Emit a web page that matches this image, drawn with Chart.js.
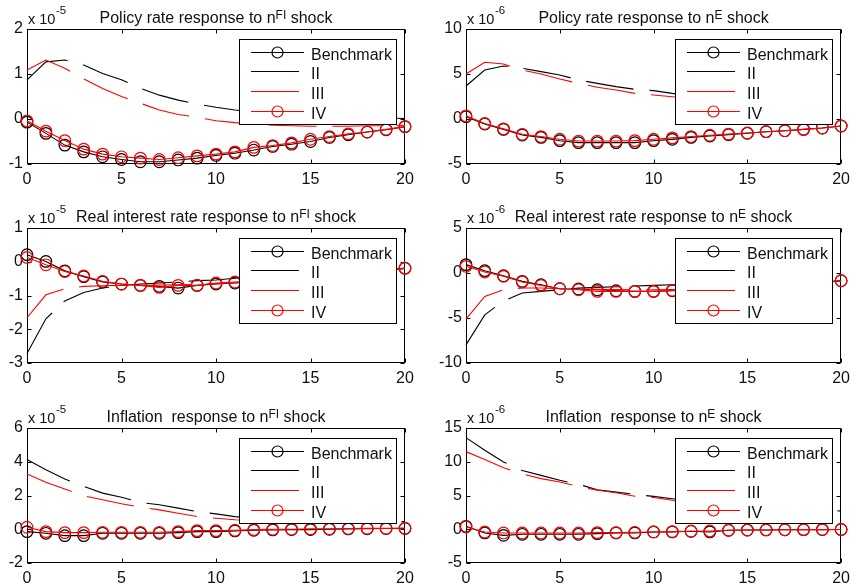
<!DOCTYPE html>
<html><head><meta charset="utf-8">
<script src="https://cdn.jsdelivr.net/npm/chart.js@4.4.1/dist/chart.umd.min.js"></script>
<style>
html,body{margin:0;padding:0;background:#fff;}
body{width:856px;height:587px;position:relative;overflow:hidden;}
canvas{position:absolute;display:block;}
</style></head><body>
<canvas id="c1" width="428" height="199" style="left:0;top:0"></canvas>
<canvas id="c2" width="428" height="199" style="left:428px;top:0"></canvas>
<canvas id="c3" width="428" height="199" style="left:0;top:199px"></canvas>
<canvas id="c4" width="428" height="199" style="left:428px;top:199px"></canvas>
<canvas id="c5" width="428" height="189" style="left:0;top:398px"></canvas>
<canvas id="c6" width="428" height="189" style="left:428px;top:398px"></canvas>
<script>
// ---------- data ----------
const periods = [0,1,2,3,4,5,6,7,8,9,10,11,12,13,14,15,16,17,18,19,20];
const xTicks = [0,5,10,15,20];
const seriesNames = ['Benchmark','II','III','IV'];

// Policy rate response to n^FI shock (x 10^-5)
const policyFI_bench = [-0.07,-0.32,-0.58,-0.73,-0.84,-0.90,-0.95,-0.95,-0.91,-0.87,-0.81,-0.76,-0.69,-0.61,-0.56,-0.50,-0.41,-0.35,-0.29,-0.24,-0.17];
const policyFI_II    = [0.87,1.27,1.31,1.20,1.01,0.87,0.68,0.53,0.42,0.33,0.26,0.20,0.16,0.13,0.10,0.08,0.06,0.04,0.03,0.02,0.01];
const policyFI_III   = [1.09,1.31,1.13,0.89,0.68,0.50,0.35,0.20,0.10,0.04,-0.04,-0.08,-0.11,-0.14,-0.15,-0.16,-0.16,-0.16,-0.15,-0.15,-0.14];
const policyFI_IV    = [-0.04,-0.27,-0.48,-0.67,-0.78,-0.84,-0.87,-0.90,-0.86,-0.82,-0.78,-0.73,-0.63,-0.59,-0.53,-0.45,-0.39,-0.33,-0.29,-0.23,-0.17];
const policyFI_yTicks = [-1,0,1,2];

// Policy rate response to n^E shock (x 10^-6)
const policyE_bench = [0.26,-0.56,-1.15,-1.78,-2.04,-2.41,-2.63,-2.63,-2.63,-2.63,-2.41,-2.26,-2.04,-1.89,-1.74,-1.59,-1.41,-1.30,-1.15,-1.00,-0.78];
const policyE_II    = [3.67,5.44,5.89,5.63,5.26,4.89,4.33,3.96,3.60,3.30,3.15,2.85,2.60,2.40,2.20,2.00,1.85,1.70,1.55,1.45,1.35];
const policyE_III   = [5.00,6.30,6.11,5.44,5.00,4.44,3.96,3.52,3.22,2.85,2.67,2.48,2.30,2.15,2.00,1.85,1.70,1.60,1.50,1.40,1.30];
const policyE_IV    = [0.35,-0.50,-1.10,-1.70,-1.95,-2.25,-2.45,-2.45,-2.45,-2.40,-2.25,-2.10,-1.95,-1.80,-1.68,-1.55,-1.41,-1.30,-1.15,-1.00,-0.78];
const policyE_yTicks = [-5,0,5,10];

// Real interest rate response to n^FI shock (x 10^-5)
const realFI_bench = [0.21,0.01,-0.27,-0.44,-0.60,-0.66,-0.70,-0.73,-0.78,-0.70,-0.66,-0.63,-0.60,-0.56,-0.52,-0.47,-0.42,-0.37,-0.32,-0.27,-0.19];
const realFI_II    = [-2.72,-1.69,-1.16,-0.91,-0.78,-0.70,-0.66,-0.63,-0.60,-0.56,-0.54,-0.49,-0.45,-0.42,-0.38,-0.35,-0.32,-0.29,-0.26,-0.23,-0.20];
const realFI_III   = [-1.66,-0.98,-0.80,-0.73,-0.71,-0.70,-0.70,-0.69,-0.68,-0.67,-0.65,-0.62,-0.57,-0.53,-0.49,-0.44,-0.40,-0.35,-0.30,-0.25,-0.20];
const realFI_IV    = [0.13,-0.09,-0.29,-0.42,-0.58,-0.66,-0.70,-0.76,-0.70,-0.70,-0.63,-0.60,-0.57,-0.53,-0.49,-0.45,-0.40,-0.35,-0.30,-0.25,-0.19];
const realFI_yTicks = [-3,-2,-1,0,1];

// Real interest rate response to n^E shock (x 10^-6)
const realE_bench = [0.93,0.26,-0.30,-0.93,-1.30,-1.75,-1.78,-1.86,-1.97,-2.04,-2.04,-1.97,-1.90,-1.80,-1.70,-1.60,-1.50,-1.35,-1.20,-1.05,-0.86];
const realE_II    = [-7.99,-4.65,-3.10,-2.23,-2.04,-1.86,-1.67,-1.60,-1.52,-1.45,-1.38,-1.30,-1.25,-1.20,-1.15,-1.10,-1.05,-1.00,-0.96,-0.93,-0.90];
const realE_III   = [-5.13,-2.60,-1.86,-1.67,-1.67,-1.75,-1.78,-1.82,-1.85,-1.86,-1.86,-1.84,-1.78,-1.70,-1.60,-1.50,-1.40,-1.28,-1.15,-1.02,-0.90];
const realE_IV    = [0.74,0.11,-0.37,-1.00,-1.38,-1.75,-1.86,-2.04,-2.04,-2.04,-2.04,-1.93,-1.88,-1.80,-1.70,-1.60,-1.50,-1.35,-1.20,-1.05,-0.86];
const realE_yTicks = [-10,-5,0,5];

// Inflation response to n^FI shock (x 10^-5)
const inflFI_bench = [-0.14,-0.24,-0.38,-0.38,-0.24,-0.24,-0.24,-0.24,-0.20,-0.14,-0.14,-0.10,-0.06,-0.04,-0.02,-0.02,0.00,0.02,0.03,0.04,0.05];
const inflFI_II    = [4.13,3.53,2.98,2.54,2.14,1.90,1.59,1.45,1.25,1.05,0.91,0.75,0.66,0.60,0.55,0.52,0.50,0.48,0.47,0.46,0.45];
const inflFI_III   = [3.27,2.78,2.38,1.98,1.75,1.51,1.31,1.15,0.95,0.75,0.65,0.56,0.51,0.48,0.47,0.46,0.46,0.45,0.45,0.45,0.45];
const inflFI_IV    = [0.12,-0.14,-0.20,-0.20,-0.18,-0.18,-0.18,-0.18,-0.14,-0.08,-0.08,-0.06,-0.02,0.00,0.00,0.02,0.03,0.04,0.05,0.05,0.06];
const inflFI_yTicks = [-2,0,2,4,6];

// Inflation response to n^E shock (x 10^-6)
const inflE_bench = [0.43,-0.55,-0.90,-0.75,-0.75,-0.75,-0.75,-0.65,-0.55,-0.55,-0.40,-0.40,-0.30,-0.40,-0.15,-0.12,-0.10,-0.08,-0.06,-0.05,-0.04];
const inflE_II    = [13.57,11.70,9.96,8.70,7.98,7.25,6.65,5.86,5.50,5.17,4.87,4.53,4.25,4.00,3.75,3.55,3.35,3.15,3.00,2.85,2.70];
const inflE_III   = [11.50,10.35,9.10,8.20,7.50,7.00,6.36,5.77,5.40,4.90,4.70,4.30,4.05,3.80,3.60,3.40,3.20,3.05,2.90,2.75,2.60];
const inflE_IV    = [0.33,-0.40,-0.55,-0.55,-0.55,-0.55,-0.55,-0.50,-0.50,-0.45,-0.40,-0.35,-0.30,-0.25,-0.15,-0.12,-0.10,-0.08,-0.06,-0.05,-0.04];
const inflE_yTicks = [-5,0,5,10,15];

// ---------- styling ----------
const FONT = "'Liberation Sans', Arial, Helvetica, sans-serif";
const TXT = '#111111';
const BLACK = '#000000';
const RED = '#ff0000';
const DASH = [48,16];

const decor = {
  id: 'decor',
  beforeDatasetsDraw(chart) {
    const ctx = chart.ctx, a = chart.chartArea, xs = chart.scales.x, ys = chart.scales.y;
    ctx.save();
    ctx.strokeStyle = BLACK; ctx.lineWidth = 1;
    const l = Math.round(a.left)+0.5, r = Math.round(a.right)-0.5, t = Math.round(a.top)+0.5, b = Math.round(a.bottom)-0.5;
    ctx.strokeRect(l, t, r-l, b-t);
    const TL = 4;
    ctx.beginPath();
    xs.ticks.forEach(tk => {
      const px = Math.round(xs.getPixelForValue(tk.value))+0.5;
      ctx.moveTo(px, b); ctx.lineTo(px, b-TL);
      ctx.moveTo(px, t); ctx.lineTo(px, t+TL);
    });
    ys.ticks.forEach(tk => {
      const py = Math.round(ys.getPixelForValue(tk.value))+0.5;
      ctx.moveTo(l, py); ctx.lineTo(l+TL, py);
      ctx.moveTo(r, py); ctx.lineTo(r-TL, py);
    });
    ctx.stroke();
    ctx.restore();
  },
  afterDatasetsDraw(chart, args, o) {
    const ctx = chart.ctx, a = chart.chartArea;
    ctx.save();
    const lw = 158, lh = 86;
    const lx = Math.round(a.right) - 8 - lw, ly = Math.round(a.top) + 10;
    ctx.fillStyle = '#fff';
    ctx.fillRect(lx, ly, lw, lh);
    ctx.strokeStyle = BLACK; ctx.lineWidth = 1;
    ctx.strokeRect(lx+0.5, ly+0.5, lw-1, lh-1);
    const ds = chart.data.datasets;
    ds.forEach((d, i) => {
      const y = Math.round(ly + 12.7 + i*19.6) + 0.5;
      ctx.strokeStyle = d.borderColor; ctx.lineWidth = 1.1;
      ctx.setLineDash(d.borderDash || []);
      ctx.beginPath(); ctx.moveTo(lx+12, y); ctx.lineTo(lx+65, y); ctx.stroke();
      ctx.setLineDash([]);
      if (d.pointRadius > 0) {
        ctx.lineWidth = 1.2;
        ctx.beginPath(); ctx.arc(lx+38.5, y, 5.5, 0, Math.PI*2); ctx.stroke();
      }
      ctx.fillStyle = TXT;
      ctx.font = '16px ' + FONT;
      ctx.textBaseline = 'middle'; ctx.textAlign = 'left';
      ctx.fillText(d.label, lx+72, y+3.5);
    });
    ctx.restore();
  },
  afterDraw(chart, args, o) {
    const ctx = chart.ctx, a = chart.chartArea;
    ctx.save();
    ctx.fillStyle = TXT;
    ctx.textBaseline = 'alphabetic'; ctx.textAlign = 'left';
    // title with superscript
    const mainF = '16px ' + FONT, supF = '12px ' + FONT;
    ctx.font = mainF; const w1 = ctx.measureText(o.title[0]).width, w3 = ctx.measureText(o.title[2]).width;
    ctx.font = supF; const w2 = ctx.measureText(o.title[1]).width;
    const cx = (a.left + a.right)/2;
    let x = cx - (w1+w2+w3)/2;
    const by = a.top - 6;
    ctx.font = mainF; ctx.fillText(o.title[0], x, by); x += w1;
    ctx.font = supF; ctx.fillText(o.title[1], x, by - 4); x += w2;
    ctx.font = mainF; ctx.fillText(o.title[2], x, by);
    // exponent label
    ctx.font = '14.5px ' + FONT;
    const base = 'x 10';
    ctx.fillText(base, a.left + 1, a.top - 5);
    const bw = ctx.measureText(base).width;
    ctx.font = '11.5px ' + FONT;
    ctx.fillText(o.exp, a.left + 1 + bw + 0.5, a.top - 15.5);
    ctx.restore();
  }
};

function pts(ys) { return periods.map((p, i) => ({x: p, y: ys[i]})); }

function makePanel(id, g, s) {
  const circle = (c) => ({pointRadius:5.8, pointHoverRadius:5.8, pointBorderColor:c, pointBackgroundColor:'rgba(0,0,0,0)', pointBorderWidth:1.2});
  const none = {pointRadius:0, pointHoverRadius:0};
  new Chart(document.getElementById(id), {
    type: 'line',
    data: { datasets: [
      Object.assign({label: seriesNames[0], data: pts(s.bench), borderColor: BLACK, borderWidth: 1.1, clip: false, order: 3}, circle(BLACK)),
      Object.assign({label: seriesNames[1], data: pts(s.II), borderColor: BLACK, borderWidth: 1.1, borderDash: DASH, clip: false, order: 2}, none),
      Object.assign({label: seriesNames[2], data: pts(s.III), borderColor: RED, borderWidth: 1.1, borderDash: DASH, clip: false, order: 1}, none),
      Object.assign({label: seriesNames[3], data: pts(s.IV), borderColor: RED, borderWidth: 1.1, clip: false, order: 0}, circle(RED))
    ]},
    options: {
      responsive: false, animation: false, devicePixelRatio: 1, events: [],
      layout: { padding: { top: g.T - g.cy, right: g.cx + g.cw - g.R, left: 0, bottom: 0 } },
      elements: { line: { tension: 0 } },
      plugins: { legend: {display: false}, tooltip: {enabled: false}, title: {display: false},
                 decor: { title: s.title, exp: s.exp } },
      scales: {
        x: { type: 'linear', min: 0, max: 20,
             afterBuildTicks: sc => { sc.ticks = xTicks.map(v => ({value: v})); },
             afterFit: sc => { sc.height = g.cy + g.ch - g.B; },
             grid: { display: false, drawTicks: false }, border: { display: false },
             ticks: { font: { family: FONT, size: 16 }, color: TXT, padding: 6, maxRotation: 0, autoSkip: false } },
        y: { type: 'linear', min: s.yTicks[0], max: s.yTicks[s.yTicks.length-1],
             afterBuildTicks: sc => { sc.ticks = s.yTicks.map(v => ({value: v})); },
             afterFit: sc => { sc.width = g.L - g.cx; },
             grid: { display: false, drawTicks: false }, border: { display: false },
             ticks: { font: { family: FONT, size: 16 }, color: TXT, padding: 4, autoSkip: false } }
      }
    },
    plugins: [decor]
  });
}

const colL = {cx: 0, cw: 428, L: 27, R: 405};
const colR = {cx: 428, cw: 428, L: 466, R: 844};
const row1 = {cy: 0, ch: 199, T: 29, B: 164};
const row2 = {cy: 199, ch: 199, T: 228, B: 363};
const row3 = {cy: 398, ch: 189, T: 428, B: 563};

makePanel('c1', Object.assign({}, colL, row1), {bench: policyFI_bench, II: policyFI_II, III: policyFI_III, IV: policyFI_IV, yTicks: policyFI_yTicks, title: ['Policy rate response to n','FI',' shock'], exp: '-5'});
makePanel('c2', Object.assign({}, colR, row1), {bench: policyE_bench, II: policyE_II, III: policyE_III, IV: policyE_IV, yTicks: policyE_yTicks, title: ['Policy rate response to n','E',' shock'], exp: '-6'});
makePanel('c3', Object.assign({}, colL, row2), {bench: realFI_bench, II: realFI_II, III: realFI_III, IV: realFI_IV, yTicks: realFI_yTicks, title: ['Real interest rate response to n','FI',' shock'], exp: '-5'});
makePanel('c4', Object.assign({}, colR, row2), {bench: realE_bench, II: realE_II, III: realE_III, IV: realE_IV, yTicks: realE_yTicks, title: ['Real interest rate response to n','E',' shock'], exp: '-6'});
makePanel('c5', Object.assign({}, colL, row3), {bench: inflFI_bench, II: inflFI_II, III: inflFI_III, IV: inflFI_IV, yTicks: inflFI_yTicks, title: ['Inflation  response to n','FI',' shock'], exp: '-5'});
makePanel('c6', Object.assign({}, colR, row3), {bench: inflE_bench, II: inflE_II, III: inflE_III, IV: inflE_IV, yTicks: inflE_yTicks, title: ['Inflation  response to n','E',' shock'], exp: '-6'});
</script>
</body></html>
